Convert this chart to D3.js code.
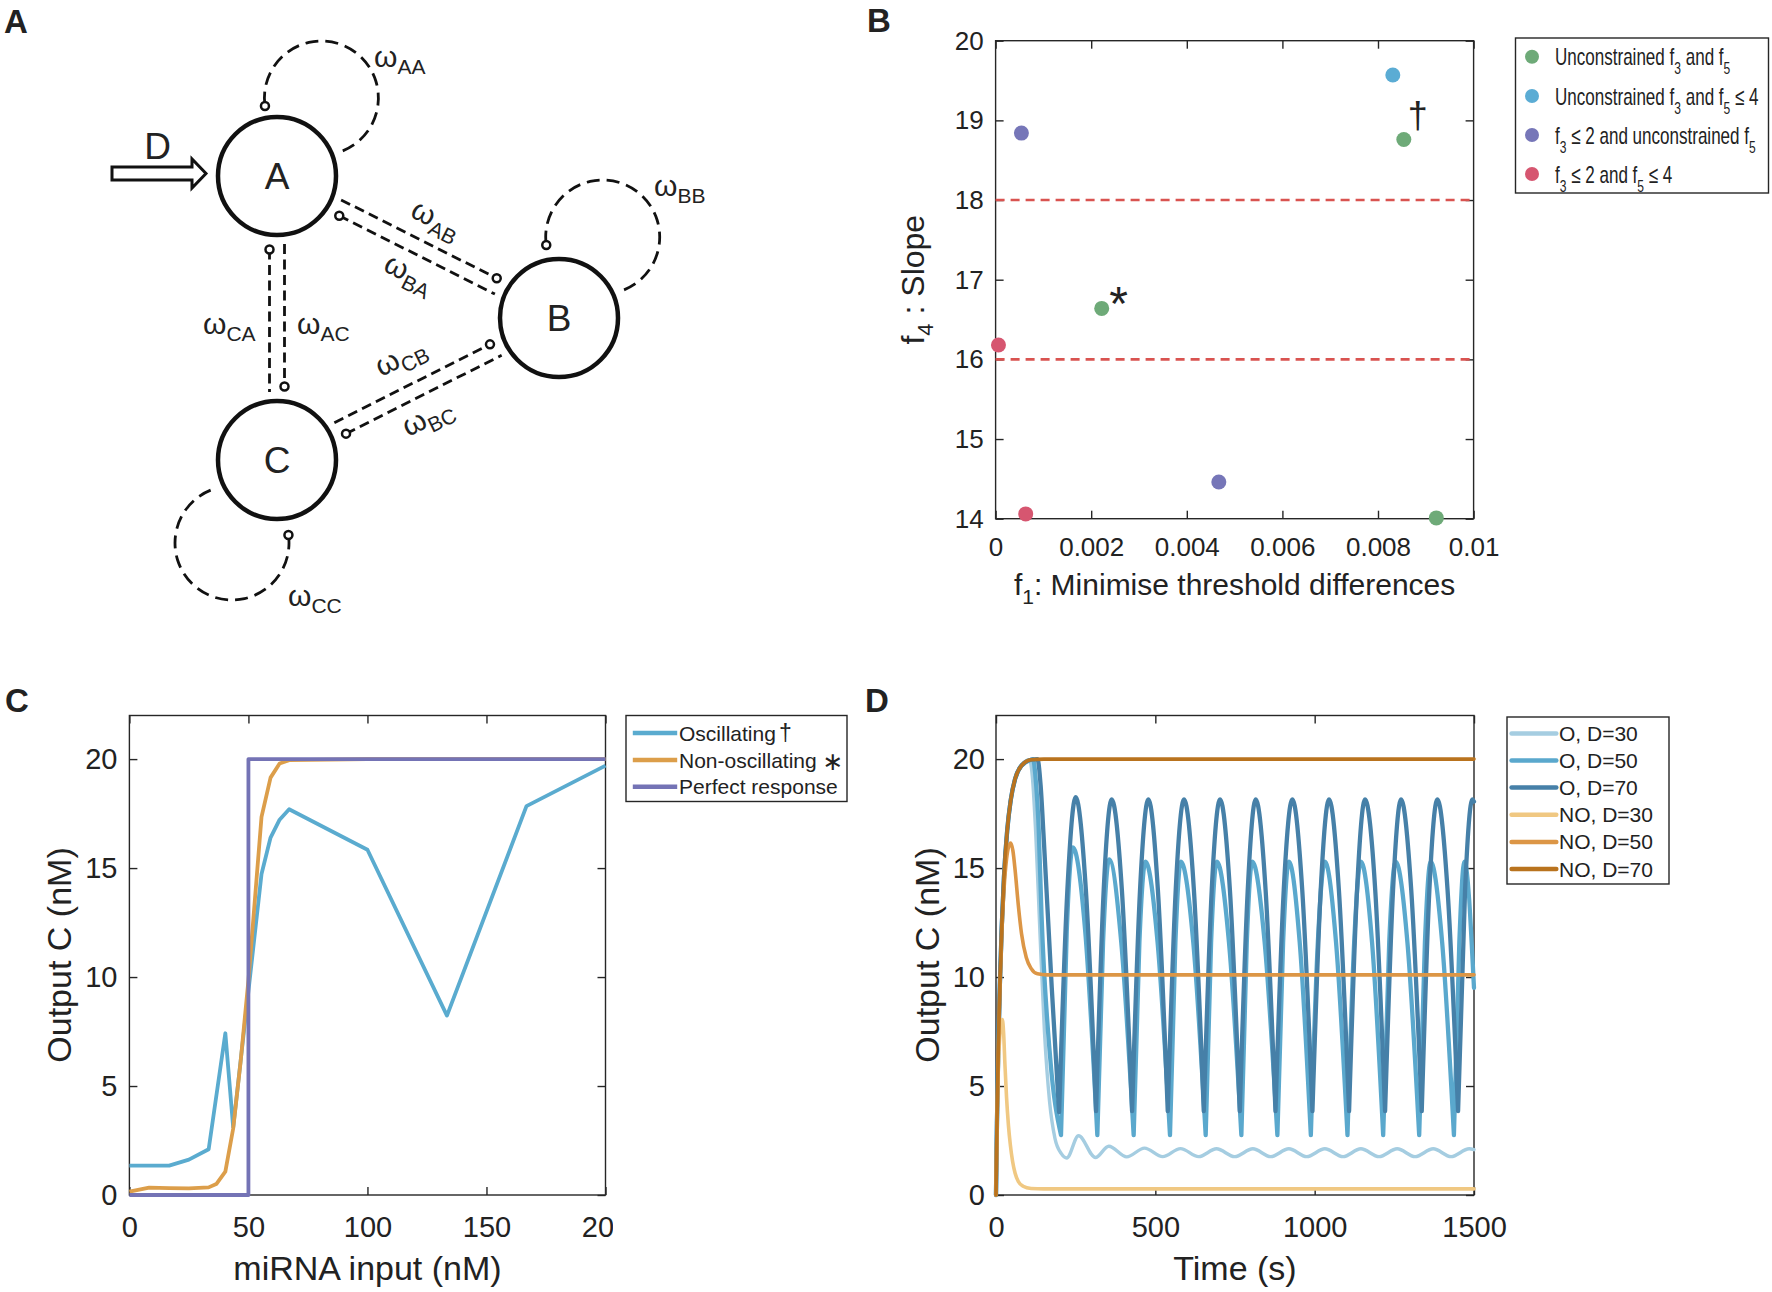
<!DOCTYPE html>
<html><head><meta charset="utf-8">
<script src="https://cdn.jsdelivr.net/npm/d3@7"></script>
<style>
html,body{margin:0;padding:0;background:#fff;}
svg{display:block;}
text{font-family:"Liberation Sans",Arial,Helvetica,sans-serif;fill:#222;}
</style></head><body>
<svg id="fig" width="1772" height="1292"></svg>
<script>
// ================= DATA =================
// Panel B : Pareto points
const bGroupNames = ["Unconstrained f3 and f5","Unconstrained f3 and f5 ≤ 4","f3 ≤ 2 and unconstrained f5","f3 ≤ 2 and f5 ≤ 4"];
const bX     = [0.00222, 0.00854, 0.00922, 0.00831, 0.00054, 0.00467, 0.00006, 0.00063];
const bY     = [16.64,   18.76,   14.01,   19.57,   18.84,   14.46,   16.18,   14.06];
const bGroup = [0, 0, 0, 1, 2, 2, 3, 3];
const bMarks = [["*", 0], ["†", 1]];          // [symbol, point index]
const bRefLines = [16, 18];
const bXTicks = [0, 0.002, 0.004, 0.006, 0.008, 0.01];
const bYTicks = [14, 15, 16, 17, 18, 19, 20];

// Panel C : dose response
const cInputOsc   = [0, 16.7, 25, 33.3, 40.3, 43.6, 55.5, 59.3, 63.1, 67.1, 100, 133.4, 166.8, 200];
const cOutputOsc  = [1.35, 1.35, 1.62, 2.1, 7.42, 3.1, 14.73, 16.4, 17.22, 17.7, 15.84, 8.23, 17.84, 19.7];
const cInputNon   = [0, 8.3, 16.7, 25, 33.3, 36.5, 40.3, 43.6, 46.7, 50, 55.5, 59.3, 63.1, 67.1, 100, 200];
const cOutputNon  = [0.15, 0.34, 0.32, 0.3, 0.35, 0.5, 1.07, 3.05, 6.1, 9.85, 17.35, 19.15, 19.8, 19.95, 20, 20];
const cInputPerf  = [0, 50, 50, 200];
const cOutputPerf = [0, 0, 20, 20];
const cXTicks = [0, 50, 100, 150, 200];
const cYTicks = [0, 5, 10, 15, 20];

// Panel D : time courses [time (s), output C (nM)]
const dO30 = [[0,0],[3,3.3],[7,6.6],[12,9.6],[18,12.3],[25,14.6],[35,16.7],[46,18.1],[60,19.1],[80,19.7],[105,19.97],
 [114,19.2],[125,16.5],[138,12.0],[152,7.5],[168,4.3],[185,2.6],[205,1.9],[222,1.7],[259,2.72],[312,1.72],[354,2.24],
 [410,1.75],[466,2.15],[523,1.76],[579,2.13],[636,1.76],[692,2.12],[749,1.76],[806,2.12],[862,1.76],[919,2.12],
 [975,1.76],[1032,2.12],[1089,1.76],[1145,2.12],[1202,1.76],[1259,2.12],[1315,1.76],[1372,2.12],[1428,1.76],[1485,2.12],[1500,2.08]];
const dO50 = [[0,0],[3,3.3],[7,6.6],[12,9.6],[18,12.3],[25,14.6],[35,16.7],[46,18.1],[60,19.1],[80,19.7],[110,19.97],
 [116,20],[125,19.0],[134,16.8],[143,12.8],[170,6.3],[204,2.75],
 [222,12.1],[241,15.95],[280,12.1],[318,2.75],
 [336,11.6],[355,15.4],[393,11.6],[432,2.75],
 [450,11.6],[469,15.3],[507,11.6],[546,2.75],
 [563,11.6],[580,15.3],[619,11.6],[658,2.75],
 [675,11.6],[693,15.3],[731,11.6],[770,2.75],
 [787,11.6],[804,15.3],[843,11.6],[883,2.75],
 [901,11.6],[919,15.3],[953,11.6],[988,2.75],
 [1010,11.6],[1032,15.3],[1067,11.6],[1103,2.75],
 [1124,11.6],[1145,15.3],[1180,11.6],[1215,2.75],
 [1234,11.6],[1254,15.3],[1291,11.6],[1328,2.75],
 [1346,11.6],[1364,15.3],[1400,11.6],[1437,2.75],
 [1454,11.6],[1470,15.3],[1500,9.5]];
const dO70 = [[0,0],[3,3.3],[7,6.6],[12,9.6],[18,12.3],[25,14.6],[35,16.7],[46,18.1],[60,19.1],[80,19.7],[110,19.97],
 [130,20],[140,18.8],[150,16.3],[175,9.5],[198,3.8],
 [224,14.0],[250,18.25],[282,14.0],[314,3.85],
 [338,14.0],[363,18.15],[395,14.0],[427,3.85],
 [452,14.0],[478,18.15],[508,14.0],[539,3.85],
 [564,14.0],[590,18.15],[621,14.0],[652,3.85],
 [677,14.0],[703,18.15],[734,14.0],[765,3.85],
 [790,14.0],[815,18.15],[846,14.0],[877,3.85],
 [903,14.0],[930,18.15],[961,14.0],[993,3.85],
 [1019,14.0],[1045,18.15],[1076,14.0],[1108,3.85],
 [1133,14.0],[1158,18.15],[1190,14.0],[1221,3.85],
 [1246,14.0],[1271,18.15],[1303,14.0],[1336,3.85],
 [1360,14.0],[1385,18.15],[1417,14.0],[1450,3.85],
 [1472,14.0],[1495,18.15],[1500,18.05]];
const dNO30 = [[0,0],[3,3.1],[7,5.8],[12,7.3],[17,7.95],[20,8.05],[24,7.4],[28,6.0],[33,4.5],[39,3.2],[45,2.3],[52,1.55],
 [60,1.0],[70,0.62],[85,0.4],[110,0.3],[150,0.28],[1500,0.28]];
const dNO50 = [[0,0],[3,3.2],[7,6.4],[12,9.3],[18,11.9],[25,14.0],[33,15.4],[40,16.0],[46,16.15],[53,15.8],[60,14.9],
 [70,13.3],[80,12.0],[95,10.9],[110,10.4],[130,10.15],[160,10.1],[1500,10.1]];
const dNO70 = [[0,0],[3,3.3],[7,6.6],[12,9.6],[18,12.3],[25,14.6],[35,16.7],[46,18.1],[60,19.1],[80,19.7],[110,19.97],[150,20],[1500,20]];
const dLabels = ["O, D=30","O, D=50","O, D=70","NO, D=30","NO, D=50","NO, D=70"];
const dXTicks = [0, 500, 1000, 1500];
const dYTicks = [0, 5, 10, 15, 20];

// ================= STYLE / LAYOUT =================
const FONT = '"Liberation Sans",Arial,Helvetica,sans-serif';
const AX = "#262626";
const bColors = ["#6eaa78", "#5bacd4", "#7676b8", "#d65670"];
const cColors = {osc:"#5aabcf", non:"#dc9e4a", perf:"#7473b5"};
const dColors = ["#a5cde1", "#5aa8cd", "#4680a8", "#f0c882", "#dc9646", "#b9731e"];
const dWidths = [3.4, 4.3, 4.3, 3.6, 3.6, 3.6];
const dCusp   = [false, true, true, false, false, false];

const svg = d3.select("#fig");
svg.append("rect").attr("width",1772).attr("height",1292).attr("fill","#fff");

function drawFrame(g, x, y, o) {
  const [xa, xb] = x.range(), [ya, yb] = y.range();
  const style = (a) => {
    a.select(".domain").remove();
    a.attr("font-family", null).attr("font-size", null);
    a.selectAll("line").attr("stroke", AX).attr("stroke-width", 1.4);
    a.selectAll("text").attr("font-size", o.tickFont).attr("fill", AX).style("font-family", FONT);
    return a;
  };
  const bottom = style(g.append("g").attr("transform", `translate(0,${ya})`)
    .call(d3.axisBottom(x).tickValues(o.xTicks).tickFormat(o.xFmt).tickSizeInner(-8).tickSizeOuter(0).tickPadding(o.xPad)));
  style(g.append("g").attr("transform", `translate(0,${yb})`)
    .call(d3.axisTop(x).tickValues(o.xTicks).tickFormat(() => "").tickSizeInner(-8).tickSizeOuter(0)));
  style(g.append("g").attr("transform", `translate(${xa},0)`)
    .call(d3.axisLeft(y).tickValues(o.yTicks).tickFormat(o.yFmt).tickSizeInner(-8).tickSizeOuter(0).tickPadding(o.yPad)));
  style(g.append("g").attr("transform", `translate(${xb},0)`)
    .call(d3.axisRight(y).tickValues(o.yTicks).tickFormat(() => "").tickSizeInner(-8).tickSizeOuter(0)));
  g.append("rect").attr("x", xa).attr("y", yb).attr("width", xb - xa).attr("height", ya - yb)
    .attr("fill", "none").attr("stroke", AX).attr("stroke-width", 1.4);
  return bottom;
}

// Panel letters
[["A",4,33],["B",867,32],["C",5,712],["D",865,712]].forEach(([t,x,y]) =>
  svg.append("text").attr("x",x).attr("y",y).attr("font-size",33).attr("font-weight","bold").attr("fill","#111").text(t));

// ================= PANEL A (network schematic) =================
(function(){
  const g = svg.append("g");
  const R = 59;
  const nodes = {A:{x:277,y:176}, B:{x:559,y:318}, C:{x:277,y:460}};
  const pairs = [["A","B"],["A","C"],["C","B"]];
  const off = 7.5, gap = 68, mk = 73.5;
  const dash = "10,5.5";
  pairs.forEach(([s,t]) => {
    const S = nodes[s], T = nodes[t];
    const L = Math.hypot(T.x-S.x, T.y-S.y), ux = (T.x-S.x)/L, uy = (T.y-S.y)/L, nx = -uy, ny = ux;
    const l1 = [[S.x+ux*gap-nx*off, S.y+uy*gap-ny*off],[T.x-ux*mk-nx*off, T.y-uy*mk-ny*off]];
    const l2 = [[S.x+ux*mk+nx*off, S.y+uy*mk+ny*off],[T.x-ux*gap+nx*off, T.y-uy*gap+ny*off]];
    [l1,l2].forEach(l => g.append("path").attr("d", d3.line()(l)).attr("fill","none")
      .attr("stroke","#111").attr("stroke-width",2.8).attr("stroke-dasharray",dash));
    [l1[1], l2[0]].forEach(p => g.append("circle").attr("cx",p[0]).attr("cy",p[1]).attr("r",4)
      .attr("fill","#fff").attr("stroke","#111").attr("stroke-width",2.5));
  });
  const loops = [{n:"A",dx:44.4,dy:-78,a0:68,a1:-188},{n:"B",dx:43.7,dy:-81,a0:68,a1:-188},{n:"C",dx:-45,dy:83,a0:248,a1:-8}];
  const rad = Math.PI/180, lr = 57;
  loops.forEach(l => {
    const cx = nodes[l.n].x + l.dx, cy = nodes[l.n].y + l.dy;
    const p = d3.path(); p.moveTo(cx+lr*Math.cos(l.a0*rad), cy+lr*Math.sin(l.a0*rad));
    p.arc(cx, cy, lr, l.a0*rad, l.a1*rad, true);
    g.append("path").attr("d", p.toString()).attr("fill","none").attr("stroke","#111")
      .attr("stroke-width",2.8).attr("stroke-dasharray","13,7");
    g.append("circle").attr("cx",cx+lr*Math.cos(l.a1*rad)).attr("cy",cy+lr*Math.sin(l.a1*rad)).attr("r",4)
      .attr("fill","#fff").attr("stroke","#111").attr("stroke-width",2.5);
  });
  Object.entries(nodes).forEach(([k,n]) => {
    g.append("circle").attr("cx",n.x).attr("cy",n.y).attr("r",R).attr("fill","#fff").attr("stroke","#111").attr("stroke-width",4.5);
    g.append("text").attr("x",n.x).attr("y",n.y+13).attr("text-anchor","middle").attr("font-size",37).attr("fill","#111").text(k);
  });
  g.append("path").attr("d", d3.line()([[112,167],[192,167],[192,159],[206,173.5],[192,188],[192,180],[112,180]]) + "Z")
    .attr("fill","#fff").attr("stroke","#111").attr("stroke-width",3).attr("stroke-linejoin","miter");
  g.append("text").attr("x",157.5).attr("y",159).attr("text-anchor","middle").attr("font-size",37).attr("fill","#111").text("D");
  const wl = [["AA",374,67,0],["BB",654,196,0],["AB",409,216,27],["BA",382,270,27],["CA",203,334,0],
              ["AC",297,334,0],["CB",381,377,-26],["BC",408,437,-26],["CC",288,606,0]];
  wl.forEach(([s,x,y,r]) => {
    const t = g.append("text").attr("transform",`translate(${x},${y}) rotate(${r})`).attr("fill","#111");
    t.append("tspan").attr("font-size",30).text("ω");
    t.append("tspan").attr("font-size",21).attr("dy",7).text(s);
  });
})();

// ================= PANEL B =================
(function(){
  const g = svg.append("g");
  const x = d3.scaleLinear([0, 0.01], [995.6, 1473.6]);
  const y = d3.scaleLinear([14, 20], [518.7, 40.7]);
  drawFrame(g, x, y, {xTicks:bXTicks, yTicks:bYTicks, xFmt:d => d === 0 ? "0" : d3.format(".3~f")(d),
    yFmt:d3.format("d"), tickFont:26, xPad:19, yPad:12});
  g.selectAll(".ref").data(bRefLines).join("line").attr("x1",x(0)).attr("x2",x(0.01))
    .attr("y1",d=>y(d)).attr("y2",d=>y(d)).attr("stroke","#d95350").attr("stroke-width",2.6).attr("stroke-dasharray","9,6");
  g.selectAll(".pt").data(bX.map((v,i)=>i)).join("circle").attr("cx",i=>x(bX[i])).attr("cy",i=>y(bY[i]))
    .attr("r",7.5).attr("fill",i=>bColors[bGroup[i]]);
  const ms = bMarks.map(([s,i]) => ({s, x:x(bX[i]), y:y(bY[i])}));
  g.append("text").attr("x",ms[0].x+17).attr("y",ms[0].y+12).attr("text-anchor","middle").attr("font-size",48).attr("fill","#111").text(ms[0].s);
  g.append("text").attr("x",ms[1].x+14).attr("y",ms[1].y-11).attr("text-anchor","middle").attr("font-size",36).attr("fill","#111").text(ms[1].s);
  const xt = g.append("text").attr("x",1234.6).attr("y",594.5).attr("text-anchor","middle").attr("font-size",30).attr("fill",AX);
  xt.append("tspan").text("f"); xt.append("tspan").attr("font-size",21).attr("dy",9).text("1");
  xt.append("tspan").attr("dy",-9).text(": Minimise threshold differences");
  const yt = g.append("text").attr("transform","translate(924,279.7) rotate(-90)").attr("text-anchor","middle").attr("font-size",32).attr("fill",AX);
  yt.append("tspan").text("f"); yt.append("tspan").attr("font-size",22).attr("dy",9).text("4");
  yt.append("tspan").attr("dy",-9).text(" : Slope");
  g.append("rect").attr("x",1515.5).attr("y",38).attr("width",253).attr("height",155).attr("fill","#fff").attr("stroke",AX).attr("stroke-width",1.4);
  const rowsY = [56.7, 96, 135, 174];
  bGroupNames.forEach((name, i) => {
    g.append("circle").attr("cx",1532).attr("cy",rowsY[i]).attr("r",7).attr("fill",bColors[i]);
    const tg = g.append("g").attr("transform",`translate(1555,${rowsY[i]+8.5}) scale(0.71,1)`);
    const t = tg.append("text").attr("font-size",24).attr("fill","#111");
    const parts = name.split(/(?<=f)([35])/);
    let sub = false;
    parts.forEach(p => {
      if (/^[35]$/.test(p)) { t.append("tspan").attr("font-size",17).attr("dy",9).text(p); sub = true; }
      else { const s = t.append("tspan").text(p); if (sub) { s.attr("dy",-9); sub = false; } }
    });
  });
})();

// ================= PANEL C =================
(function(){
  const g = svg.append("g");
  const x = d3.scaleLinear([0, 200], [129.4, 605.5]);
  const y = d3.scaleLinear([0, 22], [1195, 715.5]);
  svg.append("clipPath").attr("id","cclip").append("rect").attr("x",0).attr("y",-20).attr("width",613).attr("height",100);
  const bottom = drawFrame(g, x, y, {xTicks:cXTicks, yTicks:cYTicks, xFmt:d3.format("d"), yFmt:d3.format("d"), tickFont:29, xPad:21, yPad:12});
  bottom.attr("clip-path","url(#cclip)");
  const line = d3.line().x(d=>x(d[0])).y(d=>y(d[1]));
  const series = [
    {xs:cInputOsc, ys:cOutputOsc, c:cColors.osc},
    {xs:cInputNon, ys:cOutputNon, c:cColors.non},
    {xs:cInputPerf, ys:cOutputPerf, c:cColors.perf}];
  series.forEach(s => g.append("path").attr("d", line(s.xs.map((v,i)=>[v, s.ys[i]])))
    .attr("fill","none").attr("stroke",s.c).attr("stroke-width",3.8).attr("stroke-linejoin","round"));
  g.append("text").attr("x",367.5).attr("y",1280).attr("text-anchor","middle").attr("font-size",34).attr("fill",AX).text("miRNA input (nM)");
  g.append("text").attr("transform","translate(71,955) rotate(-90)").attr("text-anchor","middle").attr("font-size",34).attr("fill",AX).text("Output C (nM)");
  g.append("rect").attr("x",626).attr("y",715.5).attr("width",221).attr("height",86).attr("fill","#fff").attr("stroke",AX).attr("stroke-width",1.4);
  const rows = [733, 760, 786.7], cols = [cColors.osc, cColors.non, cColors.perf];
  rows.forEach((ry,i) => g.append("line").attr("x1",632.8).attr("x2",677.2).attr("y1",ry).attr("y2",ry)
    .attr("stroke",cols[i]).attr("stroke-width",4.5));
  const t0 = g.append("text").attr("x",679).attr("y",rows[0]+7.5).attr("font-size",21).attr("fill","#111");
  t0.append("tspan").text("Oscillating"); t0.append("tspan").attr("dx",3).attr("font-size",23).text("†");
  const t1 = g.append("text").attr("x",679).attr("y",rows[1]+7.5).attr("font-size",21).attr("fill","#111");
  t1.append("tspan").text("Non-oscillating ");
  t1.append("tspan").attr("font-size",25).attr("dy",2).style("font-family",'"DejaVu Sans",sans-serif').text("∗");
  g.append("text").attr("x",679).attr("y",rows[2]+7.5).attr("font-size",21).attr("fill","#111").text("Perfect response");
})();

// ================= PANEL D =================
(function(){
  const g = svg.append("g");
  const x = d3.scaleLinear([0, 1500], [996, 1474]);
  const y = d3.scaleLinear([0, 22], [1195, 715.5]);
  drawFrame(g, x, y, {xTicks:dXTicks, yTicks:dYTicks, xFmt:d3.format("d"), yFmt:d3.format("d"), tickFont:29, xPad:21, yPad:11});
  const line = d3.line().x(d=>x(d[0])).y(d=>y(d[1])).curve(d3.curveMonotoneX);
  const splitAtMinima = pts => {
    const segs = []; let st = 0;
    for (let i = 1; i < pts.length-1; i++)
      if (pts[i][1] < pts[i-1][1] && pts[i][1] < pts[i+1][1]) { segs.push(pts.slice(st, i+1)); st = i; }
    segs.push(pts.slice(st)); return segs;
  };
  const all = [dO30, dO50, dO70, dNO30, dNO50, dNO70];
  all.forEach((pts, i) => {
    const d = dCusp[i] ? splitAtMinima(pts).map(s => line(s)).join("") : line(pts);
    g.append("path").attr("d", d).attr("fill","none").attr("stroke",dColors[i]).attr("stroke-width",dWidths[i])
      .attr("stroke-linejoin","round").attr("stroke-linecap","round");
  });
  g.append("text").attr("x",1235).attr("y",1280).attr("text-anchor","middle").attr("font-size",34).attr("fill",AX).text("Time (s)");
  g.append("text").attr("transform","translate(939,955) rotate(-90)").attr("text-anchor","middle").attr("font-size",34).attr("fill",AX).text("Output C (nM)");
  g.append("rect").attr("x",1507).attr("y",717).attr("width",162).attr("height",167).attr("fill","#fff").attr("stroke",AX).attr("stroke-width",1.4);
  const rows = [733.4, 760.5, 787.6, 814.7, 841.9, 869];
  dLabels.forEach((lab, i) => {
    g.append("line").attr("x1",1511.6).attr("x2",1556.3).attr("y1",rows[i]).attr("y2",rows[i])
      .attr("stroke",dColors[i]).attr("stroke-width",4.5).attr("stroke-linecap","round");
    g.append("text").attr("x",1559).attr("y",rows[i]+7.5).attr("font-size",21).attr("fill","#111").text(lab);
  });
})();
</script>
</body></html>
